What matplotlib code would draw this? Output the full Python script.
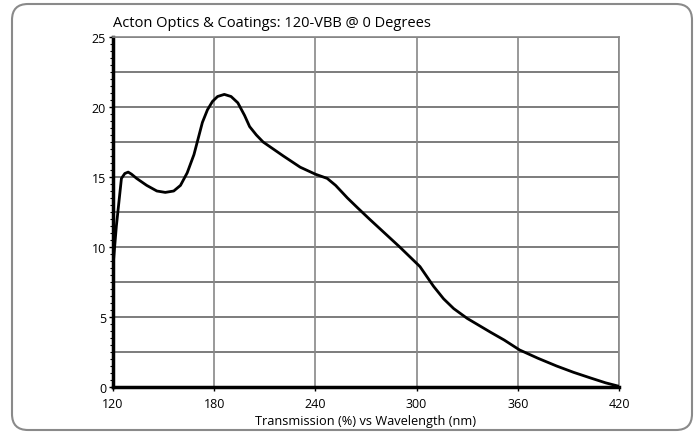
import matplotlib
matplotlib.use("Agg")
import matplotlib.pyplot as plt
import numpy as np
from matplotlib.patches import FancyBboxPatch
from matplotlib.transforms import IdentityTransform

# wavelength (nm) and transmission (%)
wavelength = [120, 122, 125, 127, 129, 131, 134, 140, 146, 151, 156, 160, 164,
              168, 173, 176, 179, 182, 186, 190, 194, 198, 201, 205, 209, 215,
              221, 231, 240, 247, 252, 259, 265, 272, 281, 290, 296, 302, 310,
              316, 322, 330, 344, 352, 361, 372, 383, 393, 403, 412, 420]
transmission = [8.6, 11.5, 14.9, 15.25, 15.35, 15.2, 14.9, 14.4, 14.0, 13.9,
                14.0, 14.4, 15.3, 16.6, 18.9, 19.8, 20.4, 20.75, 20.9, 20.75,
                20.3, 19.4, 18.6, 18.0, 17.5, 17.0, 16.5, 15.7, 15.2, 14.9, 14.4,
                13.5, 12.8, 12.0, 11.0, 10.0, 9.3, 8.6, 7.2, 6.3, 5.6, 4.9, 3.9,
                3.35, 2.65, 2.05, 1.5, 1.05, 0.65, 0.3, 0.05]
x_ticks = [120, 180, 240, 300, 360, 420]
y_ticks = [0, 5, 10, 15, 20, 25]

plt.rcParams['font.family'] = ['Open Sans', 'DejaVu Sans']

fig = plt.figure(figsize=(6.97, 4.35), dpi=100)
ax = fig.add_axes([113/697, 1-388/435, (619-113)/697, (388-38)/435])

# rounded outer frame
frame = FancyBboxPatch((12, 4), 680, 426, boxstyle="round,pad=0,rounding_size=16",
                       transform=IdentityTransform(), facecolor="none",
                       edgecolor="#8a8a8a", linewidth=1.5)
fig.patches.append(frame)

# grid
for yv in np.arange(2.5, 25.1, 2.5):
    ax.axhline(yv, color="#666666", lw=1.2, zorder=1)
for xv in x_ticks[1:]:
    ax.axvline(xv, color="#888888", lw=1.2, zorder=1)

ax.plot(wavelength, transmission, color="black", lw=2.0, zorder=3,
        solid_joinstyle="round", solid_capstyle="round")

ax.set_xlim(120, 420)
ax.set_ylim(0, 25)
ax.set_xticks(x_ticks)
ax.set_yticks(y_ticks)
ax.set_yticks(np.arange(0, 25.1, 0.5), minor=True)
ax.tick_params(axis="y", which="major", length=3, width=1, direction="out",
               labelsize=9, pad=2, colors="black")
ax.tick_params(axis="y", which="minor", length=2, width=0.8, direction="out")
ax.tick_params(axis="x", which="major", length=3, width=1, direction="out",
               labelsize=9, pad=4)

for s in ["left", "bottom"]:
    ax.spines[s].set_linewidth(2.5)
    ax.spines[s].set_color("black")
for s in ["top", "right"]:
    ax.spines[s].set_linewidth(1.2)
    ax.spines[s].set_color("#888888")

ax.set_title("Acton Optics & Coatings: 120-VBB @ 0 Degrees", fontsize=10.5,
             loc="left", pad=8, x=0.0)
ax.set_xlabel("Transmission (%) vs Wavelength (nm)", fontsize=9.2, labelpad=3)

fig.savefig("out.png", dpi=100)
